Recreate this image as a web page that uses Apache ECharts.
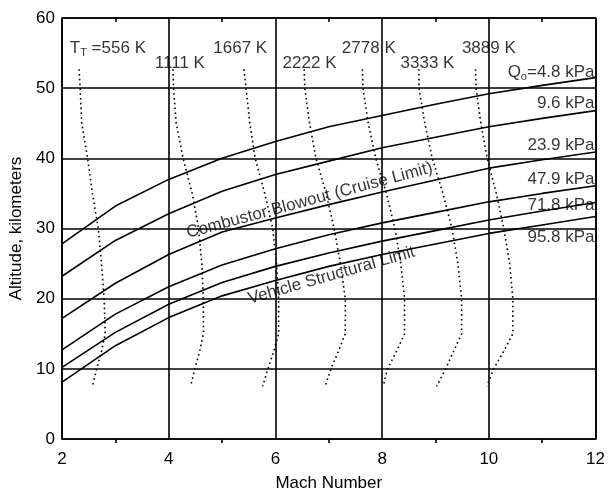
<!DOCTYPE html>
<html>
<head>
<meta charset="utf-8">
<script src="https://cdn.jsdelivr.net/npm/echarts@6/dist/echarts.min.js"></script>
<style>
html,body{margin:0;padding:0;background:#fff;}
#c{width:608px;height:497px;}
</style>
</head>
<body>
<div id="c"></div>
<script>
// ---- data ----
const mach = [2, 3, 4, 5, 6, 7, 8, 9, 10, 11, 12];
const q48  = [27.8, 33.2, 37.0, 40.0, 42.4, 44.5, 46.1, 47.7, 49.2, 50.4, 51.5];
const q96  = [23.2, 28.3, 32.1, 35.3, 37.7, 39.6, 41.5, 43.0, 44.5, 45.7, 46.8];
const q239 = [17.2, 22.2, 26.3, 29.5, 31.5, 33.4, 35.2, 36.9, 38.6, 39.8, 40.9];
const q479 = [12.7, 17.8, 21.7, 24.8, 27.1, 29.1, 30.8, 32.3, 33.8, 35.0, 36.1];
const q718 = [10.2, 15.2, 19.2, 22.3, 24.6, 26.5, 28.2, 29.7, 31.2, 32.5, 33.7];
const q958 = [8.1, 13.3, 17.3, 20.4, 22.6, 24.6, 26.3, 27.8, 29.3, 30.5, 31.7];
const qNames = ['Q{s|o}=4.8 kPa', '9.6 kPa', '23.9 kPa', '47.9 kPa', '71.8 kPa', '95.8 kPa'];
const qLabelAlt = [52.3, 47.8, 41.8, 37.0, 33.3, 28.7];

const tAlt   = [52.7, 50, 45, 40, 35, 30, 25, 20, 15, 12.5, 10, 7.5];
const t556   = [2.32, 2.34, 2.37, 2.48, 2.57, 2.68, 2.74, 2.79, 2.81, 2.74, 2.65, 2.57];
const t1111  = [4.08, 4.09, 4.14, 4.27, 4.44, 4.56, 4.62, 4.65, 4.65, 4.58, 4.49, 4.41];
const t1667  = [5.41, 5.45, 5.52, 5.62, 5.80, 5.95, 6.02, 6.06, 6.06, 5.97, 5.86, 5.76];
const t2222  = [6.54, 6.55, 6.64, 6.76, 6.95, 7.10, 7.22, 7.31, 7.31, 7.18, 7.04, 6.93];
const t2778  = [7.63, 7.64, 7.74, 7.88, 8.08, 8.24, 8.35, 8.42, 8.42, 8.27, 8.10, 8.02];
const t3333  = [8.69, 8.69, 8.80, 8.94, 9.14, 9.31, 9.42, 9.49, 9.49, 9.34, 9.19, 9.02];
const t3889  = [9.75, 9.76, 9.85, 9.97, 10.14, 10.28, 10.39, 10.45, 10.45, 10.28, 10.09, 9.96];
const tNames = ['{a|T}{s|T}{a| =556 K}', '1111 K', '1667 K', '2222 K', '2778 K', '3333 K', '3889 K'];
const tLabelMach = [2.86, 4.21, 5.34, 6.64, 7.75, 8.85, 10.0];
const tLabelAlt  = [55.7, 53.6, 55.7, 53.6, 55.7, 53.6, 55.7];

const noteText = ['Combustor Blowout (Cruise Limit)', 'Vehicle Structural Limit'];
const notePos  = [[6.64, 34.0], [7.05, 23.3]];
const noteRot  = [15, 16];

const xTicks = [2, 4, 6, 8, 10, 12];
const yTicks = [0, 10, 20, 30, 40, 50, 60];

// ---- chart ----
const FONT = '"Liberation Sans", Arial, sans-serif';
const FS = 17;
const chart = echarts.init(document.getElementById('c'), null, {renderer: 'canvas'});

const qSeries = [q48, q96, q239, q479, q718, q958].map(arr => ({
  type: 'line', data: mach.map((m, i) => [m, arr[i]]), symbol: 'none', silent: true,
  lineStyle: {color: '#000', width: 1.6}, z: 3
}));
const tSeries = [t556, t1111, t1667, t2222, t2778, t3333, t3889].map(arr => ({
  type: 'line', data: tAlt.map((a, i) => [arr[i], a]), symbol: 'none', silent: true,
  lineStyle: {color: '#000', width: 1.6, type: [1.6, 3.2], cap: 'butt'}, z: 3
}));
const rich = {
  a: {fontSize: FS, fontFamily: FONT, color: '#000', lineHeight: 20},
  s: {fontSize: 11, fontFamily: FONT, color: '#000', verticalAlign: 'bottom', lineHeight: 20, padding: [8, 0, 0, 0]}
};
const qLabelSeries = {
  type: 'scatter', symbolSize: 0, silent: true, z: 5,
  data: qNames.map((n, i) => ({value: [12, qLabelAlt[i]], name: n})),
  label: {show: true, position: 'left', distance: 1, formatter: p => p.name,
    fontSize: FS, fontFamily: FONT, color: '#000', rich: rich}
};
const tLabelSeries = {
  type: 'scatter', symbolSize: 0, silent: true, z: 5,
  data: tNames.map((n, i) => ({value: [tLabelMach[i], tLabelAlt[i]], name: n})),
  label: {show: true, position: 'inside', formatter: p => p.name,
    fontSize: FS, fontFamily: FONT, color: '#000', rich: rich}
};
const noteSeries = noteText.map((t, i) => ({
  type: 'scatter', symbolSize: 0, silent: true, z: 5,
  data: [{value: notePos[i], name: t}],
  label: {show: true, position: 'inside', rotate: noteRot[i], formatter: p => p.name,
    fontSize: FS, fontFamily: FONT, color: '#000'}
}));

const axisLine = {show: true, onZero: false, lineStyle: {color: '#000', width: 1.6}};
const split = {show: true, lineStyle: {color: '#000', width: 1.6}};

chart.setOption({
  animation: false,
  backgroundColor: '#fff',
  grid: {left: 62, right: 11, top: 18, bottom: 52, containLabel: false},
  xAxis: [{
    type: 'value', min: xTicks[0], max: xTicks[xTicks.length - 1], interval: 2,
    position: 'bottom', axisLine: axisLine, splitLine: split,
    axisTick: {show: false},
    minorTick: {show: true, splitNumber: 2, length: 4, lineStyle: {color: '#000', width: 1.6}},
    axisLabel: {fontSize: FS, fontFamily: FONT, color: '#000', margin: 12},
    name: 'Mach Number', nameLocation: 'middle', nameGap: 36,
    nameTextStyle: {fontSize: FS, fontFamily: FONT, color: '#000'}
  }, {
    type: 'value', min: xTicks[0], max: xTicks[xTicks.length - 1], interval: 2,
    position: 'top', axisLine: axisLine, splitLine: {show: false},
    axisTick: {show: false}, axisLabel: {show: false},
    minorTick: {show: true, splitNumber: 2, length: -4, lineStyle: {color: '#000', width: 1.6}}
  }],
  yAxis: [{
    type: 'value', min: yTicks[0], max: yTicks[yTicks.length - 1], interval: 10,
    position: 'left', axisLine: axisLine, splitLine: split, axisTick: {show: false},
    axisLabel: {fontSize: FS, fontFamily: FONT, color: '#000', margin: 7},
    name: 'Altitude, kilometers', nameLocation: 'middle', nameGap: 25,
    nameTextStyle: {fontSize: FS, fontFamily: FONT, color: '#000'}
  }, {
    type: 'value', min: 0, max: 60, interval: 10, position: 'right',
    axisLine: axisLine, splitLine: {show: false}, axisTick: {show: false}, axisLabel: {show: false}
  }],
  series: [].concat(qSeries, tSeries, [qLabelSeries, tLabelSeries], noteSeries)
});
</script>
</body>
</html>
